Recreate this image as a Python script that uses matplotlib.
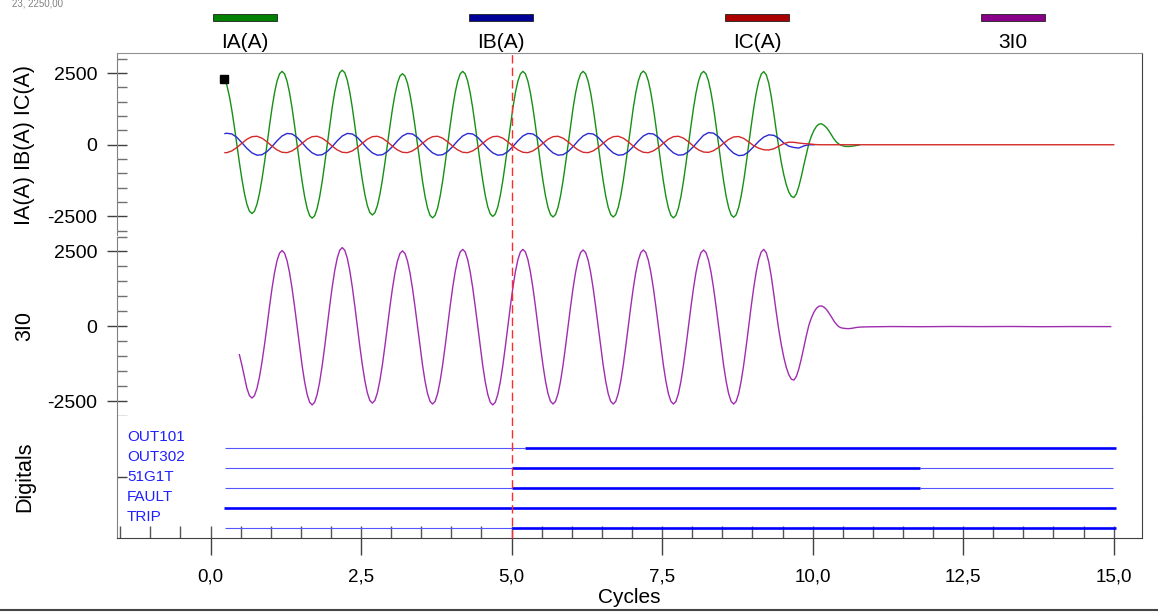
import numpy as np
import matplotlib
matplotlib.use("Agg")
import matplotlib.pyplot as plt
from matplotlib.patches import Rectangle
from matplotlib.lines import Line2D
from matplotlib.ticker import MultipleLocator, FuncFormatter

plt.rcParams['font.family'] = ['Liberation Sans', 'DejaVu Sans']
plt.rcParams['axes.unicode_minus'] = False

# ---- data (read from the oscillography) ----
# sample grid is locked to the IA peaks at 0.188 + n cycles
grid0 = 0.188
spc_fast = 24   # IA and 3I0
spc_slow = 12   # IB and IC

# IA, 24 samples per cycle starting at k=1
ia = [2290, 2078, 1697, 1200, 622, 0, -622, -1200, -1697, -2078, -2318, -2400,
      -2318, -2078, -1697, -1200, -622, 0, 663, 1280, 1810, 2217, 2473,
      2560, 2473, 2217, 1810, 1280, 663, 0, -663, -1280, -1810, -2217, -2473,
      -2560, -2473, -2217, -1810, -1280, -663, 0, 673, 1300, 1838, 2252, 2512,
      2600, 2512, 2252, 1838, 1300, 673, 0, -635, -1225, -1732, -2122, -2367,
      -2450, -2367, -2122, -1732, -1225, -635, 0, 642, 1240, 1753, 2148, 2396,
      2480, 2396, 2148, 1753, 1240, 642, 0, -660, -1275, -1803, -2208, -2463,
      -2550, -2463, -2208, -1803, -1275, -660, 0, 663, 1280, 1810, 2217, 2473,
      2560, 2473, 2217, 1810, 1280, 663, 0, -648, -1250, -1768, -2165, -2415,
      -2500, -2415, -2165, -1768, -1250, -648, 0, 663, 1280, 1810, 2217, 2473,
      2560, 2473, 2217, 1810, 1280, 663, 0, -653, -1260, -1782, -2182, -2434,
      -2520, -2434, -2182, -1782, -1260, -653, 0, 663, 1280, 1810, 2217, 2473,
      2560, 2473, 2217, 1810, 1280, 663, 0, -653, -1260, -1782, -2182, -2434,
      -2520, -2434, -2182, -1782, -1260, -653, 0, 666, 1285, 1817, 2226, 2483,
      2570, 2483, 2226, 1817, 1285, 666, 0, -660, -1275, -1803, -2208, -2463,
      -2550, -2463, -2208, -1803, -1275, -660, 0, 663, 1280, 1810, 2217, 2473,
      2560, 2473, 2217, 1810, 1280, 663, 0, -655, -1265, -1789, -2191, -2444,
      -2530, -2444, -2191, -1789, -1265, -655, 0, 660, 1275, 1803, 2208, 2463,
      2550, 2440, 2150, 1680, 1100, 480, -100, -620, -1050, -1400, -1650, -1800,
      -1840, -1720, -1450, -1100, -700, -320, 50, 300, 500, 640, 720, 730,
      680, 600, 480, 340, 200, 90, 20, -20, -50, -60, -60, -50, -40, -25, -10]

# IB, 12 samples per cycle, first point at 0.24 cycles then k=1
ib = [390,
      400, 376, 257, 70, -127, -283, -364, -348, -238, -64, 137,
      306, 394, 376, 257, 70, -127, -283, -364, -348, -238, -64, 137,
      306, 394, 376, 257, 70, -127, -283, -364, -348, -238, -64, 137,
      306, 394, 376, 257, 70, -127, -283, -364, -348, -238, -64, 137,
      306, 394, 376, 257, 70, -127, -283, -364, -348, -238, -64, 137,
      306, 394, 376, 257, 70, -127, -283, -364, -348, -238, -64, 137,
      306, 394, 376, 257, 70, -127, -283, -364, -348, -238, -64, 137,
      306, 394, 376, 257, 70, -127, -283, -364, -348, -238, -64, 137,
      330, 424, 404, 276, 75, -132, -295, -379, -362, -245, -66, 120,
      268, 345, 329, 225, 60, -50, -95, -115, -40, 0, 0]

# IC, 12 samples per cycle, first point at 0.24 cycles then k=1, then flat to the end
ic = [-275,
      -276, -214, -96, 52, 193, 282, 296, 230, 103, -49, -180,
      -263, -276, -214, -96, 52, 193, 282, 296, 230, 103, -49, -180,
      -263, -276, -214, -96, 52, 193, 282, 296, 230, 103, -49, -180,
      -263, -276, -214, -96, 52, 193, 282, 296, 230, 103, -49, -180,
      -263, -276, -214, -96, 52, 193, 282, 296, 230, 103, -49, -180,
      -263, -276, -214, -96, 52, 193, 282, 296, 230, 103, -49, -180,
      -263, -276, -214, -96, 52, 193, 282, 296, 230, 103, -49, -180,
      -263, -276, -214, -96, 52, 193, 282, 296, 230, 103, -49, -180,
      -254, -266, -207, -92, 50, 186, 273, 286, 222, 99, -32, -120,
      -175, -183, -140, -50, 40, 90, 85, 60, 40, 30, 10, 0]
ic_tail_t = [15.0]
ic_tail_v = [0]

# 3I0, 24 samples per cycle starting at k=7, then the residual tail
i0 = [-950, -1300, -1697, -2078, -2318, -2400, -2318, -2078, -1697, -1200, -622,
      0, 655, 1265, 1789, 2191, 2444,
      2530, 2444, 2191, 1789, 1265, 655, 0, -681, -1315, -1859, -2278, -2541,
      -2630, -2541, -2278, -1859, -1315, -681, 0, 681, 1315, 1859, 2278, 2541,
      2630, 2541, 2278, 1859, 1315, 681, 0, -666, -1285, -1817, -2226, -2483,
      -2570, -2483, -2226, -1817, -1285, -666, 0, 653, 1260, 1782, 2182, 2434,
      2520, 2434, 2182, 1782, 1260, 653, 0, -673, -1300, -1838, -2252, -2512,
      -2600, -2512, -2252, -1838, -1300, -673, 0, 666, 1285, 1817, 2226, 2483,
      2570, 2483, 2226, 1817, 1285, 666, 0, -681, -1315, -1859, -2278, -2541,
      -2630, -2541, -2278, -1859, -1315, -681, 0, 666, 1285, 1817, 2226, 2483,
      2570, 2483, 2226, 1817, 1285, 666, 0, -673, -1300, -1838, -2252, -2512,
      -2600, -2512, -2252, -1838, -1300, -673, 0, 660, 1275, 1803, 2208, 2463,
      2550, 2463, 2208, 1803, 1275, 660, 0, -673, -1300, -1838, -2252, -2512,
      -2600, -2512, -2252, -1838, -1300, -673, 0, 660, 1275, 1803, 2208, 2463,
      2550, 2463, 2208, 1803, 1275, 660, 0, -673, -1300, -1838, -2252, -2512,
      -2600, -2512, -2252, -1838, -1300, -673, 0, 660, 1275, 1803, 2208, 2463,
      2550, 2463, 2208, 1803, 1275, 660, 0, -673, -1300, -1838, -2252, -2512,
      -2600, -2512, -2252, -1838, -1300, -673, 0, 666, 1285, 1817, 2226, 2483,
      2570, 2460, 2150, 1670, 1080, 460, -120, -620, -1040, -1380, -1620, -1770,
      -1800, -1680, -1420, -1080, -690, -310, 40, 280, 470, 600, 670, 680,
      640, 560, 440, 310, 170, 60, -20, -55, -70, -78, -80, -70, -55, -40, -30]
i0_k0 = 7
i0_tail_t = [10.9, 11.3, 11.8, 12.3, 12.8, 13.3, 13.8, 14.3, 14.95]
i0_tail_v = [-20, -10, -15, -8, -12, -8, -15, -10, -12]

# digital channels: switching times, state of the first segment (alternates after each switch)
dig_labels = ['OUT101', 'OUT302', '51G1T', 'FAULT', 'TRIP']
dig_switch = [[0.24, 5.22, 15.04],
              [0.24, 5.0, 11.78, 14.99],
              [0.24, 5.0, 11.78, 14.99],
              [0.22, 15.04],
              [0.24, 5.0, 15.04]]
dig_state0 = [0, 0, 0, 1, 0]

legend_labels = ['IA(A)', 'IB(A)', 'IC(A)', '3I0']
trigger = 5.0
yticks = [-2500, 0, 2500]
xtick_step = 2.5

# sample times
ia_t = grid0 + np.arange(1, len(ia) + 1) / spc_fast
ib_t = np.r_[0.24, grid0 + np.arange(1, len(ib)) / spc_slow]
ic_t = np.r_[0.24, grid0 + np.arange(1, len(ic)) / spc_slow, ic_tail_t]
ic_v = np.r_[ic, ic_tail_v]
i0_t = np.r_[grid0 + np.arange(i0_k0, i0_k0 + len(i0)) / spc_fast, i0_tail_t]
i0_v = np.r_[i0, i0_tail_v]

# ---- figure ----
W_PX, H_PX = 1158, 612
fig = plt.figure(figsize=(W_PX / 100, H_PX / 100), dpi=100)


def box(top, bottom):
    return [117 / W_PX, 1 - bottom / H_PX, 1025 / W_PX, (bottom - top) / H_PX]


ax1 = fig.add_axes(box(53, 236.5))
ax2 = fig.add_axes(box(236.5, 416))
ax3 = fig.add_axes(box(416, 538))

c_ia, c_ib, c_ic, c_i0 = '#159015', '#2a2ad0', '#d42a2a', '#a02cb0'
swatch = ['#008000', '#000099', '#aa0000', '#880088']
tick_c = '#404040'

ax1.plot(ia_t, ia, color=c_ia, lw=1.0)
ax1.plot(ib_t, ib, color=c_ib, lw=1.0)
ax1.plot(ic_t, ic_v, color=c_ic, lw=1.0)
ax1.plot(ia_t[0], ia[0], 's', color='black', ms=5.5)
ax1.set_ylim(-3200, 3200)

ax2.plot(i0_t, i0_v, color=c_i0, lw=1.0)
ax2.set_ylim(-3000, 3000)

for ax in (ax1, ax2, ax3):
    ax.set_xlim(-1.553, 15.47)
    for s in ax.spines.values():
        s.set_color('#404040')
    ax.spines['left'].set_color('#808080')
    ax.spines['top'].set_visible(False)
    ax.spines['bottom'].set_visible(False)

ax1.spines['top'].set_visible(True)
ax1.spines['top'].set_color('#909090')
ax3.spines['bottom'].set_visible(True)

for ax in (ax1, ax2):
    ax.tick_params(axis='x', which='both', bottom=False, labelbottom=False)
    ax.set_yticks(yticks)
    ax.set_yticklabels([str(v) for v in yticks])
    ax.yaxis.set_minor_locator(MultipleLocator(500))
    ax.tick_params(axis='y', which='major', direction='inout', length=14.4,
                   width=1, color=tick_c, pad=7, labelsize=14)
    ax.tick_params(axis='y', which='minor', direction='in', length=7.2,
                   width=1, color='#707070')

ax1.set_ylabel('IA(A) IB(A) IC(A)', fontsize=15.5)
ax2.set_ylabel('3I0', fontsize=15.5)
ax3.set_ylabel('Digitals', fontsize=15.5)
for ax in (ax1, ax2, ax3):
    ax.yaxis.set_label_coords(-0.08, 0.5)

# digitals
n = len(dig_labels)
ax3.set_ylim(0, 6.1)
for i, (name, sw, st) in enumerate(zip(dig_labels, dig_switch, dig_state0)):
    y = (n - 0.5) - i
    state = st
    for a, b in zip(sw[:-1], sw[1:]):
        if state:
            ax3.plot([a, b], [y, y], color='#0000ff', lw=1.9, solid_capstyle='butt')
        else:
            ax3.plot([a, b], [y, y], color='#5555ff', lw=0.8, solid_capstyle='butt')
        state = 1 - state
    ax3.text(0.0098, y + 0.55, name, transform=ax3.get_yaxis_transform(),
             color='#2020ff', fontsize=11, ha='left', va='center')

ax3.set_yticks([3.05])
ax3.set_yticklabels([''])
ax3.tick_params(axis='y', direction='in', length=7.2, width=1, color=tick_c)

ax3.xaxis.set_major_locator(MultipleLocator(xtick_step))
ax3.xaxis.set_minor_locator(MultipleLocator(0.5))
ax3.xaxis.remove_overlapping_locs = False
ax3.xaxis.set_major_formatter(FuncFormatter(lambda v, p: f'{v:.1f}'.replace('.', ',')))
ax3.tick_params(axis='x', which='major', direction='out', length=12, width=1,
                color=tick_c, pad=10, labelsize=13.5)
ax3.tick_params(axis='x', which='minor', direction='in', length=8.5, width=1,
                color='#555555')
ax3.set_xlabel('Cycles', fontsize=15, labelpad=2)

# trigger cursor across all panels
ax3.axvline(trigger, ymin=0, ymax=(538 - 53) / 122, color='#ff2a2a', lw=1.0,
            linestyle=(0, (6, 3)), clip_on=False, zorder=5)

# top legend
for k, (lab, col) in enumerate(zip(legend_labels, swatch)):
    cx = 245 + k * 256
    fig.patches.append(Rectangle(((cx - 32) / W_PX, 1 - 21 / H_PX), 64 / W_PX, 7 / H_PX,
                                 transform=fig.transFigure, facecolor=col,
                                 edgecolor='#202020', lw=0.6))
    fig.text(cx / W_PX, 1 - 42 / H_PX, lab, fontsize=15, ha='center', va='center')

fig.text(12 / W_PX, 1 - 3 / H_PX, '23, 2250,00', fontsize=7, color='#808080',
         ha='left', va='center')
fig.add_artist(Line2D([0, 1], [1 - 609.5 / H_PX] * 2, transform=fig.transFigure,
                      color='#444444', lw=1.5))

fig.savefig('out.png', dpi=100)
